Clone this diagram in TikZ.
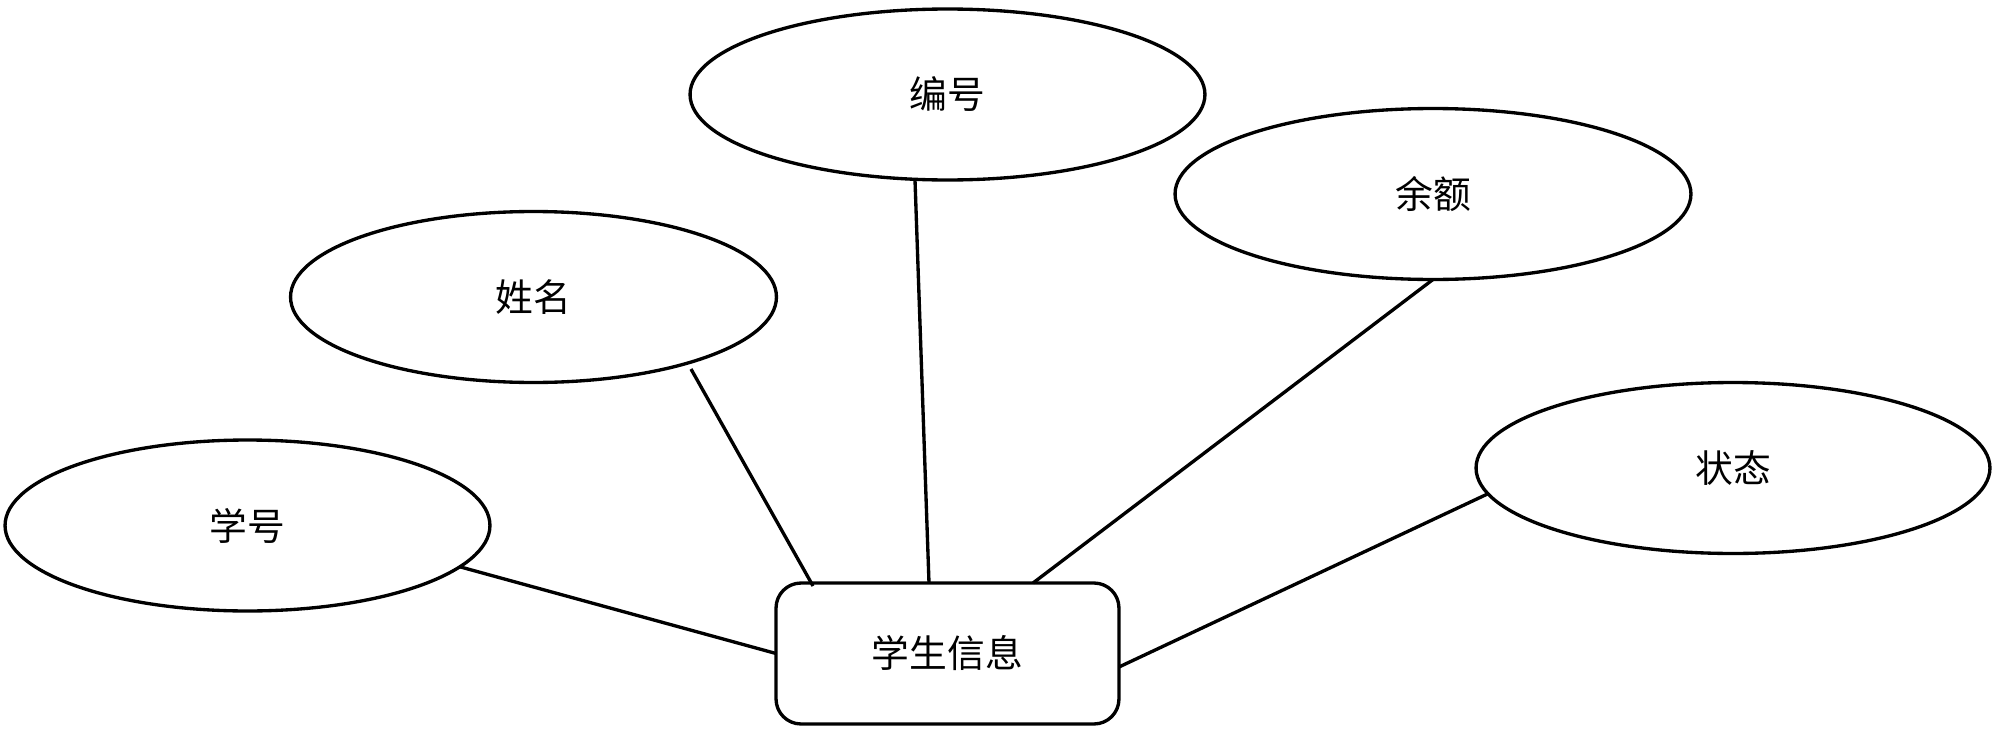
\documentclass[tikz,border=0pt]{standalone}
\usepackage{fontspec}
\setmainfont{Noto Sans CJK SC}
\usetikzlibrary{shapes.geometric,calc}
\begin{document}
\begin{tikzpicture}[x=0.02cm,y=-0.02cm,
  attr/.style={ellipse,draw,line width=1.9pt,inner sep=0pt,outer sep=0pt,minimum height=3.42cm,font=\fontsize{21.5}{25}\selectfont},
  ent/.style={rectangle,draw,line width=1.9pt,rounded corners=0.5cm,inner sep=0pt,outer sep=0pt,minimum width=6.86cm,minimum height=2.82cm,font=\fontsize{21.5}{25}\selectfont},
  conn/.style={line width=1.9pt}]
\useasboundingbox (0,0) rectangle (1999,737);
\node[attr,minimum width=9.7cm] (xh) at (247.5,525.5) {学号};
\node[attr,minimum width=9.72cm] (xm) at (533.5,297) {姓名};
\node[attr,minimum width=10.3cm] (bh) at (947.5,94.5) {编号};
\node[attr,minimum width=10.32cm] (ye) at (1433,194) {余额};
\node[attr,minimum width=10.28cm] (zt) at (1733,468) {状态};
\node[ent] (r) at (947.5,653.5) {学生信息};
\coordinate (xmS) at ($(xm.center)+(157.5,72)$);
\coordinate (rA) at ($(r.north west)+(37,3)$);
\draw[conn] (xh.-11) -- (r.west);
\draw[conn] (xmS) -- (rA);
\draw[conn] ($(bh.south)+(-32.5,0)$) -- ($(r.north)+(-18.5,0)$);
\draw[conn] (ye.south) -- ($(r.north)+(85.5,0)$);
\draw[conn] (zt.186.9) -- ($(r.east)+(0,13.5)$);
\end{tikzpicture}
\end{document}
